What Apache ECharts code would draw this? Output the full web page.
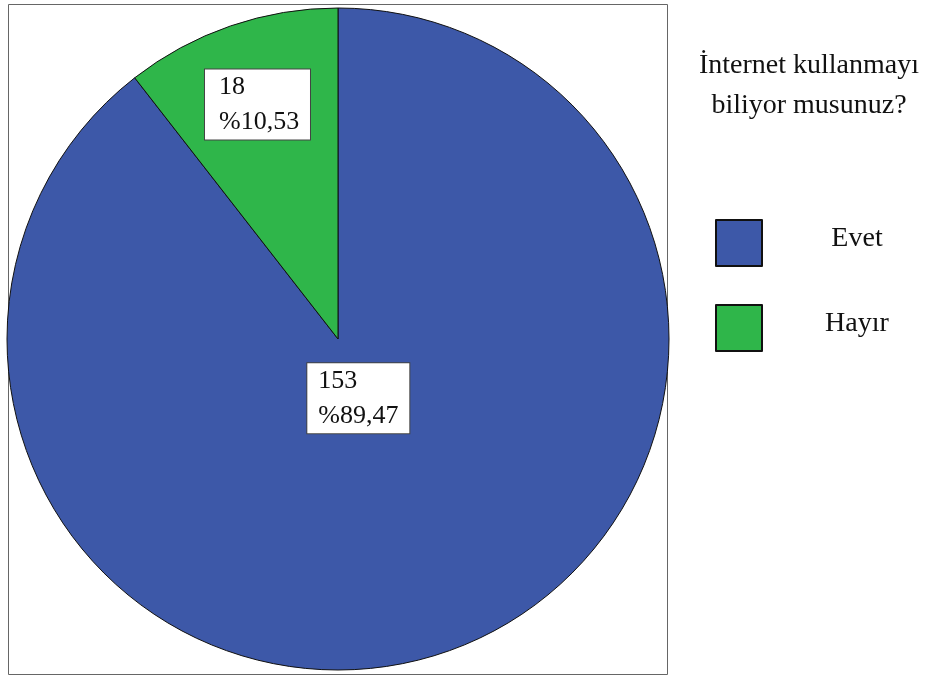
<!DOCTYPE html>
<html>
<head>
<meta charset="utf-8">
<script src="https://cdn.jsdelivr.net/npm/echarts@6/dist/echarts.min.js"></script>
<style>
  html, body { margin: 0; padding: 0; background: #fff; }
  #chart { width: 938px; height: 675px; }
</style>
</head>
<body>
<div id="chart"></div>
<script>
// Survey answers: "Do you know how to use the internet?"
const categories = ['Evet', 'Hayır'];
const counts = [153, 18];
const titleLines = ['İnternet kullanmayı', 'biliyor musunuz?'];

const sliceColors = ['#3D58A8', '#2FB64A'];
// radial position of each value label, as a fraction of the pie radius
const labelRadiusFraction = [0.18, 0.74];
const labelPadding = [[0, 10, 0, 11], [0, 10, 0, 14]];

const FONT = '"Liberation Serif", "Times New Roman", serif';
const CX = 338, CY = 339, R = 331;
const START = 90;

const total = counts.reduce((a, b) => a + b, 0);
const fmtPct = v => (v / total * 100).toFixed(2).replace('.', ',');

// Shift the default "inside" label (placed at R/2 on the mid angle)
// to the requested fraction of the radius.
let acc = 0;
const pieData = categories.map((name, i) => {
  const frac = counts[i] / total;
  const mid = (START - (acc + frac / 2) * 360) * Math.PI / 180;
  acc += frac;
  const d = (labelRadiusFraction[i] - 0.5) * R;
  return {
    name,
    value: counts[i],
    itemStyle: { color: sliceColors[i] },
    label: {
      offset: [d * Math.cos(mid), -d * Math.sin(mid)],
      padding: labelPadding[i]
    }
  };
});

const chart = echarts.init(document.getElementById('chart'), null, { renderer: 'canvas' });
chart.setOption({
  animation: false,
  backgroundColor: '#fff',
  title: {
    text: titleLines.join('\n'),
    left: 809,
    top: 46,
    textAlign: 'center',
    padding: 0,
    textStyle: {
      fontFamily: FONT,
      fontWeight: 'normal',
      fontSize: 28,
      lineHeight: 40,
      color: '#111'
    }
  },
  legend: {
    orient: 'vertical',
    left: 715,
    top: 219,
    padding: 0,
    itemWidth: 46,
    itemHeight: 46,
    itemGap: 37,
    icon: 'rect',
    selectedMode: false,
    data: categories,
    formatter: name => '{t|' + name + '}',
    textStyle: {
      fontFamily: FONT,
      fontSize: 28,
      color: '#111',
      rich: {
        t: { fontFamily: FONT, fontSize: 28, color: '#111', width: 180, align: 'center', padding: [0, 0, 8, 0] }
      }
    }
  },
  graphic: [{
    type: 'rect',
    shape: { x: 8.5, y: 4.5, width: 659, height: 670 },
    style: { fill: 'none', stroke: '#666', lineWidth: 1 },
    silent: true,
    z: 0
  }],
  series: [{
    type: 'pie',
    center: [CX, CY],
    radius: R,
    startAngle: START,
    clockwise: true,
    emphasis: { disabled: true },
    itemStyle: { borderColor: '#111', borderWidth: 1 },
    label: {
      show: true,
      position: 'inside',
      formatter: p => '{v|' + p.value + '}\n{v|%' + fmtPct(p.value) + '}',
      backgroundColor: '#fff',
      borderColor: '#444',
      borderWidth: 1,
      rich: {
        v: { fontFamily: FONT, fontSize: 26, lineHeight: 35, color: '#111', width: 81, align: 'left' }
      }
    },
    labelLine: { show: false },
    data: pieData,
    z: 2
  }]
});
</script>
</body>
</html>
